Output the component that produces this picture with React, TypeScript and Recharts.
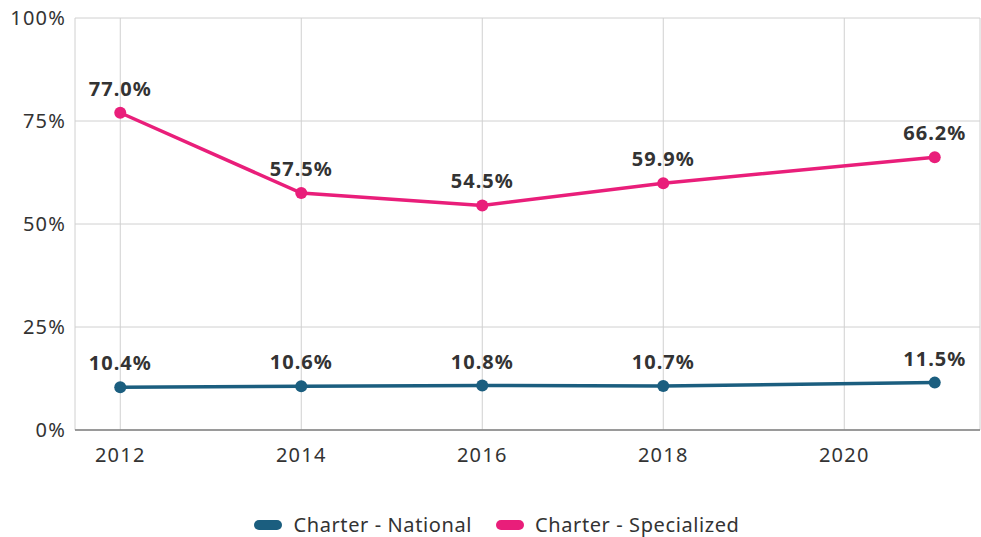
import { LineChart, Line, XAxis, YAxis, CartesianGrid, Legend, LabelList } from 'recharts'

const years = [2012, 2014, 2016, 2018, 2021]
const national = [10.4, 10.6, 10.8, 10.7, 11.5]
const specialized = [77.0, 57.5, 54.5, 59.9, 66.2]
const xTicks = [2012, 2014, 2016, 2018, 2020]
const yTicks = [0, 25, 50, 75, 100]

const NAT = '#1b5e7f'
const SPEC = '#e91e7a'
const FONT = '"Noto Sans", "Open Sans", sans-serif'

const data = years.map((y, i) => ({ year: y, national: national[i], specialized: specialized[i] }))

const series = [
  { key: 'national', name: 'Charter - National', color: NAT },
  { key: 'specialized', name: 'Charter - Specialized', color: SPEC },
]

function LegendBox() {
  return (
    <div style={{ display: 'flex', justifyContent: 'center', gap: 24, paddingLeft: 14, fontFamily: FONT, fontSize: 20, letterSpacing: 0.6, color: '#333' }}>
      {series.map(s => (
        <div key={s.key} style={{ display: 'flex', alignItems: 'center' }}>
          <span style={{ display: 'inline-block', width: 28, height: 10, borderRadius: 5, background: s.color, marginRight: 11 }} />
          <span>{s.name}</span>
        </div>
      ))}
    </div>
  )
}

export default function App() {
  return (
    <div style={{ position: 'absolute', left: 0, top: 0, background: '#fff' }}>
      <LineChart width={981} height={537} data={data} margin={{ top: 18, right: 1, left: 0, bottom: 0 }}>
        <CartesianGrid stroke="#d0d0d0" />
        <XAxis
          dataKey="year"
          type="number"
          domain={[2011.5, 2021.5]}
          ticks={xTicks}
          tickLine={false}
          axisLine={{ stroke: '#808080', strokeWidth: 1.5 }}
          tick={{ fill: '#333', fontSize: 20, letterSpacing: 1.2, fontFamily: FONT }}
          tickMargin={12}
          height={81}
        />
        <YAxis
          domain={[0, 100]}
          ticks={yTicks}
          tickFormatter={v => `${v}%`}
          tickLine={false}
          axisLine={false}
          tick={{ fill: '#333', fontSize: 20, letterSpacing: 1.2, fontFamily: FONT }}
          tickMargin={3}
          width={75}
        />
        <Legend verticalAlign="bottom" content={<LegendBox />} wrapperStyle={{ bottom: 0, height: 26 }} />
        {series.map(s => (
          <Line
            key={s.key}
            dataKey={s.key}
            name={s.name}
            stroke={s.color}
            strokeWidth={3.5}
            dot={{ r: 6, fill: s.color, stroke: s.color, strokeWidth: 0 }}
            isAnimationActive={false}
          >
            <LabelList
              dataKey={s.key}
              position="top"
              offset={17}
              formatter={(v: any) => `${Number(v).toFixed(1)}%`}
              style={{ fill: '#333', fontSize: 20, letterSpacing: 1, fontWeight: 700, fontFamily: FONT }}
            />
          </Line>
        ))}
      </LineChart>
    </div>
  )
}
